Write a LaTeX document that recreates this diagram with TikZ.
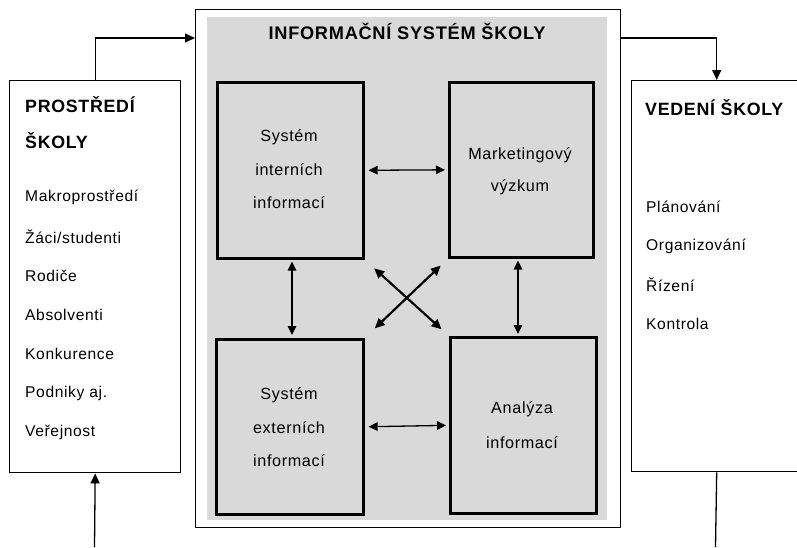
\documentclass[tikz,border=0pt]{standalone}
\usepackage{fontspec}
\setmainfont[LetterSpace=4]{Liberation Sans}
\usetikzlibrary{arrows.meta}
\definecolor{panelgray}{HTML}{D9D9D9}
\begin{document}
\begin{tikzpicture}[x=1pt,y=-1pt,
  outerbox/.style={draw=black,line width=1.4pt,fill=white,anchor=north west,inner sep=0pt},
  innerbox/.style={draw=black,line width=2.6pt,fill=panelgray,anchor=north west,inner sep=0pt},
  head/.style={font=\fontsize{17.8}{20}\selectfont\bfseries,inner sep=0pt},
  item/.style={font=\fontsize{15.6}{18}\selectfont,inner sep=0pt,anchor=west},
  label/.style={font=\fontsize{16.2}{18}\selectfont,inner sep=0pt},
  flow/.style={line width=1.3pt,-{Triangle[length=10pt,width=9pt]}},
  plain/.style={line width=1.3pt},
  both/.style={line width=1.3pt,{Triangle[length=9pt,width=8.5pt]}-{Triangle[length=9pt,width=8.5pt]}},
  cross/.style={line width=2.2pt,{Triangle[length=10pt,width=9pt]}-{Triangle[length=10pt,width=9pt]}}]
\useasboundingbox (0,0) rectangle (797,547);

% information system frame with its grey panel
\node[outerbox,minimum width=425,minimum height=518] (iss) at (195,9) {};
\node[fill=panelgray,anchor=north west,inner sep=0pt,minimum width=400,minimum height=503] (panel) at (207,17) {};
\node[head,font=\fontsize{18.2}{20}\selectfont\bfseries] (isstitle) at (407,31) {INFORMAČNÍ SYSTÉM ŠKOLY};

% school environment and school management
\node[outerbox,minimum width=171,minimum height=392] (env) at (9,80) {};
\node[outerbox,minimum width=170,minimum height=391] (mgmt) at (631,80) {};

\node[head,anchor=west] (envh1) at (25,105) {PROSTŘEDÍ};
\node[head,anchor=west] (envh2) at (25,141) {ŠKOLY};
\node[item] (e1) at (25,197) {Makroprostředí};
\node[item] (e2) at (25,237) {Žáci/studenti};
\node[item] (e3) at (25,276) {Rodiče};
\node[item] (e4) at (25,315) {Absolventi};
\node[item] (e5) at (25,354) {Konkurence};
\node[item] (e6) at (25,393) {Podniky aj.};
\node[item] (e7) at (25,432) {Veřejnost};

\node[head,anchor=west] (mgmth) at (645,108) {VEDENÍ ŠKOLY};
\node[item] (m1) at (646,207) {Plánování};
\node[item] (m2) at (646,246) {Organizování};
\node[item] (m3) at (646,285) {Řízení};
\node[item] (m4) at (646,324) {Kontrola};

% the four subsystems
\node[innerbox,minimum width=146,minimum height=176] (tl) at (216,81) {};
\node[innerbox,minimum width=144,minimum height=175] (tr) at (448,81) {};
\node[innerbox,minimum width=147,minimum height=175] (bl) at (215,338) {};
\node[innerbox,minimum width=146,minimum height=176] (br) at (449,336) {};

\node[label] (tl1) at (289,137) {Systém};
\node[label] (tl2) at (289,170) {interních};
\node[label] (tl3) at (289,203) {informací};
\node[label] (tr1) at (520,155) {Marketingový};
\node[label] (tr2) at (520,187) {výzkum};
\node[label] (bl1) at (289,395) {Systém};
\node[label] (bl2) at (289,428) {externích};
\node[label] (bl3) at (289,461) {informací};
\node[label] (br1) at (522,409) {Analýza};
\node[label] (br2) at (522,443) {informací};

% flows between the blocks
\coordinate (envin) at (94.5,547);
\coordinate (mgmtout) at (715.5,547);
\draw[flow] (env.north) |- (iss.west |- 0,38);
\draw[flow] (iss.east |- 0,38) -| (mgmt.north);
\draw[flow] (envin) -- (env.south);
\draw[plain] (mgmt.south) -- (mgmtout);

% links between the subsystems
\draw[both,shorten <=4pt,shorten >=3pt] (tl.east) -- (tr.west);
\draw[both,shorten <=4pt,shorten >=3pt] (bl.east) -- (br.west);
\draw[both,shorten <=2pt,shorten >=3pt] (tl.south -| 292,0) -- (bl.north -| 292,0);
\draw[both,shorten <=2pt,shorten >=2pt] (tr.south -| 518,0) -- (br.north -| 518,0);
\draw[cross,shorten <=13pt,shorten >=10pt] (tl.south east) -- (br.north west);
\draw[cross,shorten <=14pt,shorten >=10pt] (bl.north east) -- (tr.south west);
\end{tikzpicture}
\end{document}
